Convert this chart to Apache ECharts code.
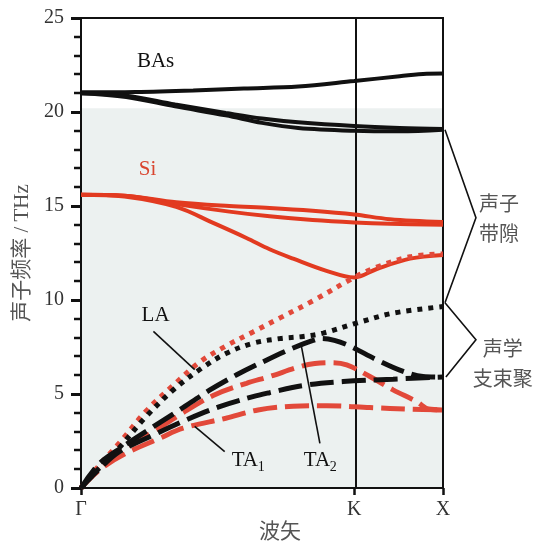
<!DOCTYPE html>
<html>
<head>
<meta charset="utf-8">
<script src="https://cdn.jsdelivr.net/npm/echarts@6/dist/echarts.min.js"></script>
<style>
html,body{margin:0;padding:0;background:#fff;}
#chart{width:542px;height:543px;}
</style>
</head>
<body>
<div id="chart"></div>
<script>
// ---- data (x: 0 = Γ, kPos = K, 1 = X ; y: THz) ----
const kPos = 0.755;
const xTickValues = [0, kPos, 1];
const xTickLabels = ['Γ', 'K', 'X'];
const yTicks = [0, 5, 10, 15, 20, 25];
const yMinorTicks = [1,2,3,4,6,7,8,9,11,12,13,14,16,17,18,19,21,22,23,24];

// BAs optical branches
const basOpt3 = [[0,21.05],[0.15,21.07],[0.31,21.15],[0.45,21.25],[0.6,21.35],[0.755,21.65],[0.88,21.9],[0.955,22.04],[1,22.05]];
const basOpt2 = [[0,21.0],[0.125,20.87],[0.26,20.4],[0.4,19.95],[0.5,19.65],[0.6,19.45],[0.755,19.25],[0.88,19.15],[1,19.1]];
const basOpt1 = [[0,21.0],[0.125,20.8],[0.26,20.3],[0.4,19.82],[0.5,19.42],[0.6,19.15],[0.755,19.0],[0.88,18.97],[1,19.05]];
// Si optical branches
const siOpt3 = [[0,15.6],[0.12,15.55],[0.263,15.2],[0.41,15.0],[0.521,14.9],[0.64,14.75],[0.755,14.55],[0.853,14.3],[1,14.15]];
const siOpt2 = [[0,15.6],[0.12,15.55],[0.263,15.1],[0.41,14.7],[0.521,14.45],[0.64,14.25],[0.755,14.12],[0.853,14.05],[1,14.0]];
const siOpt1 = [[0,15.6],[0.12,15.5],[0.263,14.95],[0.365,14.1],[0.457,13.3],[0.521,12.7],[0.586,12.2],[0.678,11.55],[0.755,11.2],[0.817,11.65],[0.909,12.2],[1,12.4]];
// Si acoustic
const siLA  = [[0,0],[0.05,1.2],[0.106,2.4],[0.18,4.1],[0.254,5.45],[0.328,6.7],[0.4,7.55],[0.475,8.3],[0.55,9.05],[0.64,9.95],[0.755,11.2],[0.817,11.75],[0.909,12.3],[1,12.45]];
const siTA2 = [[0,0],[0.05,1.1],[0.116,2.1],[0.2,3.0],[0.272,3.89],[0.365,4.92],[0.457,5.57],[0.521,5.93],[0.604,6.45],[0.646,6.62],[0.69,6.67],[0.734,6.55],[0.798,5.93],[0.862,5.22],[0.927,4.6],[0.96,4.2],[1,4.15]];
const siTA1 = [[0,0],[0.05,0.95],[0.12,1.8],[0.217,2.64],[0.282,3.18],[0.4,3.71],[0.489,4.15],[0.586,4.35],[0.678,4.38],[0.798,4.28],[0.909,4.19],[1,4.15]];
// BAs acoustic
const basLA  = [[0,0],[0.05,1.05],[0.106,2.15],[0.18,3.8],[0.254,5.2],[0.328,6.3],[0.4,7.15],[0.475,7.7],[0.55,7.95],[0.614,8.06],[0.669,8.24],[0.761,8.77],[0.862,9.3],[1,9.65]];
const basTA2 = [[0,0],[0.051,1.3],[0.116,2.2],[0.2,3.26],[0.272,4.15],[0.355,5.2],[0.43,6.02],[0.512,6.8],[0.58,7.4],[0.641,7.85],[0.665,7.95],[0.7,7.85],[0.743,7.55],[0.817,6.82],[0.89,6.2],[0.945,5.93],[1,5.9]];
const basTA1 = [[0,0],[0.05,1.0],[0.106,1.93],[0.2,2.82],[0.29,3.62],[0.383,4.33],[0.475,4.86],[0.521,5.07],[0.614,5.45],[0.724,5.66],[0.862,5.79],[1,5.9]];

const tintTop = 20.2;

// ---- styles ----
const BLACK = '#111111';
const RED = '#e23a20';
const RED2 = '#e2493a';
const SERIF = '"Liberation Serif","Times New Roman",serif';
const CJK = '"Liberation Serif","Noto Sans CJK SC",serif';

function line(name, data, color, dash, width) {
  return {
    name, type: 'line', data, smooth: 0.35, symbol: 'none', silent: true, z: 5,
    lineStyle: { color, width, type: dash, cap: 'butt' }
  };
}

const series = [
  line('BAs-O3', basOpt3, BLACK, 'solid', 4),
  line('BAs-O2', basOpt2, BLACK, 'solid', 4),
  line('BAs-O1', basOpt1, BLACK, 'solid', 4),
  line('Si-O3', siOpt3, RED, 'solid', 4),
  line('Si-O2', siOpt2, RED, 'solid', 4),
  line('Si-O1', siOpt1, RED, 'solid', 4),
  line('Si-LA', siLA, RED2, [5,6], 5),
  line('Si-TA2', siTA2, RED2, [24,8], 5),
  line('Si-TA1', siTA1, RED2, [24,8], 5),
  line('BAs-LA', basLA, BLACK, [5,6], 5),
  line('BAs-TA2', basTA2, BLACK, [24,8], 5),
  line('BAs-TA1', basTA1, BLACK, [24,8], 5)
];
series[0].markArea = {
  silent: true, z: -5,
  itemStyle: { color: '#ecf1f0' },
  data: [[{ yAxis: 0 }, { yAxis: tintTop }]]
};
series[0].markLine = {
  silent: true, symbol: 'none', label: { show: false },
  lineStyle: { color: BLACK, width: 2, type: 'solid' },
  data: [{ xAxis: kPos }]
};

const chart = echarts.init(document.getElementById('chart'), null, { renderer: 'canvas' });
chart.setOption({
  animation: false,
  backgroundColor: '#fff',
  grid: { left: 81, right: 99, top: 18, bottom: 55, show: true, borderColor: BLACK, borderWidth: 2, backgroundColor: 'transparent' },
  xAxis: {
    type: 'value', min: 0, max: 1,
    axisLine: { show: true, lineStyle: { color: BLACK, width: 2 } },
    axisTick: { show: true, customValues: xTickValues, length: 7, lineStyle: { color: BLACK, width: 2.5 } },
    axisLabel: {
      customValues: xTickValues, margin: 12, color: '#333', fontSize: 20, fontFamily: SERIF,
      formatter: v => { const i = xTickValues.findIndex(t => Math.abs(t - v) < 1e-6); return i >= 0 ? xTickLabels[i] : ''; }
    },
    splitLine: { show: false }
  },
  yAxis: {
    type: 'value', min: yTicks[0], max: yTicks[yTicks.length - 1], interval: 5,
    name: '声子频率 / THz', nameLocation: 'middle', nameGap: 46,
    nameTextStyle: { color: '#555', fontSize: 21, fontFamily: CJK },
    axisLine: { show: true, lineStyle: { color: BLACK, width: 2 } },
    axisTick: { show: true, length: 10, lineStyle: { color: BLACK, width: 3 } },
    axisLabel: { margin: 17, color: '#333', fontSize: 20, fontFamily: SERIF },
    splitLine: { show: false }
  },
  series
});

// ---- annotations, placed in data coordinates ----
const P = (x, y) => chart.convertToPixel({ gridIndex: 0 }, [x, y]);
const textLabels = [
  { t: 'BAs', at: [0.206, 22.7], color: '#111' },
  { t: 'Si',  at: [0.184, 16.93], color: '#d9452f' },
  { t: 'LA',  at: [0.206, 9.2], color: '#111' }
];
const subLabels = [
  { t: 'TA', s: '1', at: [0.466, 1.44] },
  { t: 'TA', s: '2', at: [0.665, 1.44] }
];
const leaders = [
  [[0.2, 8.33], [0.314, 6.3]],
  [[0.314, 3.28], [0.397, 1.93]],
  [[0.609, 7.52], [0.66, 2.37]]
];
const brackets = [
  [[1.0055, 19.06], [1.091, 14.38], [1.0055, 9.85]],
  [[1.0055, 9.85], [1.091, 7.88], [1.008, 5.91]]
];
const bracketTexts = [
  { t: '声子\n带隙', at: [1.155, 14.35] },
  { t: '声学\n支束聚', at: [1.165, 6.65] }
];
const xName = { t: '波矢', at: [0.55, -2.25] };

const g = [];
// minor ticks on the y axis
yMinorTicks.forEach(v => {
  const p = P(0, v);
  g.push({ type: 'rect', silent: true, z: 100,
    shape: { x: Math.round(p[0]) - 7, y: Math.round(p[1]) - 1.25, width: 7, height: 2.5 },
    style: { fill: BLACK } });
});
textLabels.forEach(l => {
  const p = P(l.at[0], l.at[1]);
  g.push({ type: 'text', x: p[0], y: p[1], silent: true, z: 100,
    style: { text: l.t, fill: l.color, font: '21px ' + SERIF, textAlign: 'center', textVerticalAlign: 'middle' } });
});
subLabels.forEach(l => {
  const p = P(l.at[0], l.at[1]);
  g.push({ type: 'text', x: p[0] - 18, y: p[1], silent: true, z: 100,
    style: { text: l.t, fill: '#111', font: '21px ' + SERIF, textAlign: 'left', textVerticalAlign: 'middle' } });
  g.push({ type: 'text', x: p[0] + 8, y: p[1] + 6, silent: true, z: 100,
    style: { text: l.s, fill: '#111', font: '14px ' + SERIF, textAlign: 'left', textVerticalAlign: 'middle' } });
});
leaders.forEach(seg => {
  const a = P(seg[0][0], seg[0][1]), b = P(seg[1][0], seg[1][1]);
  g.push({ type: 'line', silent: true, z: 100, shape: { x1: a[0], y1: a[1], x2: b[0], y2: b[1] },
    style: { stroke: '#111', lineWidth: 1.6 } });
});
brackets.forEach(br => {
  g.push({ type: 'polyline', silent: true, z: 100, shape: { points: br.map(q => P(q[0], q[1])) },
    style: { stroke: '#111', lineWidth: 1.6, fill: null } });
});
bracketTexts.forEach(l => {
  const p = P(l.at[0], l.at[1]);
  g.push({ type: 'text', x: p[0], y: p[1], silent: true, z: 100,
    style: { text: l.t, fill: '#555', font: '20px "Noto Sans CJK SC", sans-serif', textAlign: 'center', textVerticalAlign: 'middle', lineHeight: 30 } });
});
{
  const p = P(xName.at[0], xName.at[1]);
  g.push({ type: 'text', x: p[0], y: p[1], silent: true, z: 100,
    style: { text: xName.t, fill: '#555', font: '21px "Noto Sans CJK SC", sans-serif', textAlign: 'center', textVerticalAlign: 'middle' } });
}
chart.setOption({ graphic: g });
</script>
</body>
</html>
